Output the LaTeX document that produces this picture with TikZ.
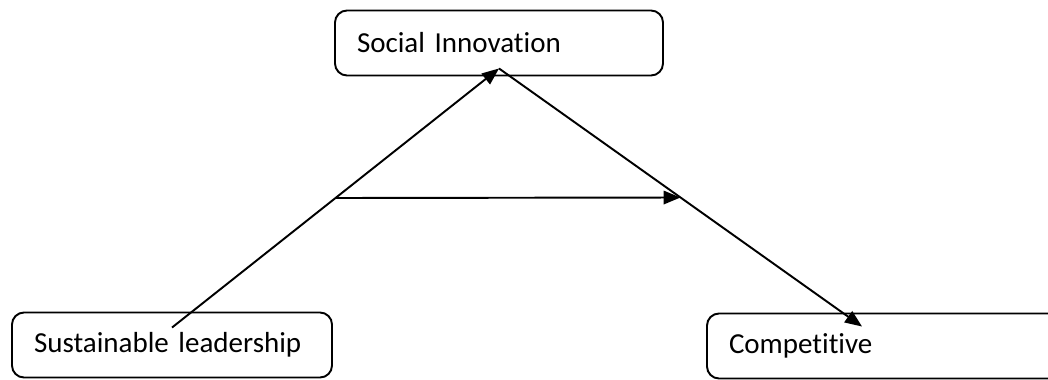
\documentclass[tikz,border=0pt]{standalone}
\usepackage{fontspec}
\setmainfont{Carlito}[Ligatures=NoCommon]
\usetikzlibrary{calc, arrows.meta, positioning}
\tikzset{factor/.style={draw, rounded corners=0.24cm, line width=1.1pt, minimum height=1.3cm, inner xsep=0.44cm, align=left, font=\fontsize{16.5}{20}\selectfont}}

\begin{document}
\begin{tikzpicture}
	\useasboundingbox (0,0) rectangle (20.96,7.58);
	\clip (0,0) rectangle (20.96,7.58);
	\node[factor, text width=5.68cm] (innov) at (9.98,6.72) {Social Innovation};
	\node[factor, text width=5.52cm] (lead) at (3.44,0.68) {Sustainable leadership};
	\node[factor, text width=6.38cm] (comp) at (17.77,0.66) {Competitive};

	\coordinate (leadpt) at ([yshift=-0.32cm]lead.north);
	\coordinate (innovpt) at ([yshift=0.16cm]innov.south);
	\coordinate (comppt) at ([xshift=3.12cm, yshift=-0.28cm]comp.north west);
	\coordinate (leftmid) at ($(leadpt)!0.5!(innovpt)$);
	\coordinate (rightmid) at ($(innovpt)!0.5!(comppt)$);

	\draw[->, >={Triangle[length=0.34cm, width=0.27cm]}, line width=1.1pt] (leadpt) -- (innovpt);
	\draw[->, >={Triangle[length=0.34cm, width=0.27cm]}, line width=1.1pt] (innovpt) -- (comppt);
	\draw[->, >={Triangle[length=0.34cm, width=0.27cm]}, line width=1.1pt] (leftmid) -- (rightmid);
\end{tikzpicture}
\end{document}
